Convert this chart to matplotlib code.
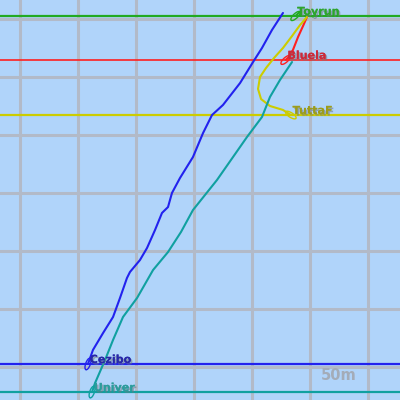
import numpy as np
import matplotlib
matplotlib.use("Agg")
import matplotlib.pyplot as plt
from matplotlib.patches import Ellipse
import matplotlib.patheffects as pe

# boat tracks in metres (x east, y north), first point = current position
names = ["Toyrun", "Bluela", "TuttaF", "Cezibo", "Univer"]
colors = ["#22aa22", "#ff2020", "#cccc00", "#2222ee", "#10a0a0"]
text_colors = ["#2ea42e", "#cc2a3a", "#9c9c1c", "#2828a8", "#2c9c9c"]

toyrun_x = [237.5, 241.5]
toyrun_y = [302.6, 306.5]

bluela_x = [229.0, 231.5, 235.3, 239.7, 244.0, 247.4]
bluela_y = [264.7, 267.0, 273.3, 284.5, 294.0, 301.7]

tuttaf_x = [233.5, 226.7, 215.5, 207.8, 205.2, 206.9, 212.1, 219.0, 226.7, 234.5, 241.4, 247.4]
tuttaf_y = [217.2, 221.6, 225.0, 231.0, 239.7, 250.0, 257.8, 266.4, 275.0, 285.3, 294.8, 301.7]

cezibo_x = [58.6, 62.9, 71.6, 80.2, 86.2, 92.2, 94.8, 103.4, 109.5, 116.4, 122.4,
            127.6, 131.0, 137.9, 149.1, 157.8, 165.5, 175.0, 189.7, 200.9, 208.6, 217.2, 226.7]
cezibo_y = [2.6, 14.7, 29.3, 43.1, 59.5, 76.7, 81.9, 92.2, 102.6, 118.1, 132.8,
            137.9, 150.0, 162.9, 181.0, 201.7, 217.2, 225.9, 244.8, 262.9, 275.0, 290.5, 305.2]

univer_x = [62.1, 64.7, 73.3, 80.2, 88.8, 100.9, 114.7, 127.6, 138.8, 149.1, 169.8,
            195.7, 208.6, 215.5, 224.1, 234.5]
univer_y = [-21.6, -13.8, 6.0, 23.3, 43.1, 59.5, 83.6, 99.1, 116.4, 135.3, 161.2,
            198.3, 215.5, 232.8, 247.4, 262.9]

# horizontal reference line for each boat (its y position)
boat_line_y = [302.6, 264.7, 217.2, 2.6, -21.6]

tracks_x = [toyrun_x, bluela_x, tuttaf_x, cezibo_x, univer_x]
tracks_y = [toyrun_y, bluela_y, tuttaf_y, cezibo_y, univer_y]

grid_step = 50
px_per_m = 1.16

fig = plt.figure(figsize=(4, 4), dpi=100)
ax = fig.add_axes([0, 0, 1, 1])
ax.set_facecolor("#b0d4fa")
ax.set_xlim(-20 / px_per_m, 380 / px_per_m)
ax.set_ylim(-33 / px_per_m, 367 / px_per_m)

for g in np.arange(0, 351, grid_step):
    ax.axvline(g, color="#b2bac8", lw=2.2, zorder=1)
    ax.axhline(g, color="#b2bac8", lw=2.2, zorder=1)

for i, name in enumerate(names):
    c = colors[i]
    ax.axhline(boat_line_y[i], color=c, lw=1.6 if i != 1 else 1.2, zorder=2)
    xs, ys = tracks_x[i], tracks_y[i]
    ax.plot(xs, ys, color=c, lw=1.5, zorder=3, solid_capstyle="round")
    # boat marker, oriented along last leg
    dx, dy = xs[1] - xs[0], ys[1] - ys[0]
    ang = np.degrees(np.arctan2(dy, dx))
    ax.add_patch(Ellipse((xs[0], ys[0]), 10.5, 4.0, angle=ang, fill=False, ec=c, lw=1, zorder=4))
    t = ax.text(xs[0] + 1.5, ys[0] + 3.5, name, color=text_colors[i], fontsize=8,
                fontweight="bold", va="center", ha="left", zorder=5)
    t.set_path_effects([pe.withSimplePatchShadow(offset=(1.2, -1.2), shadow_rgbFace="#707880", alpha=0.55),
                        pe.Normal()])

ax.text(321 / px_per_m - 20 / px_per_m, (367 - 375) / px_per_m, "50m", color="#a4acb8",
        fontsize=10.5, fontweight="bold", va="center", ha="left", zorder=5)

ax.set_xticks([])
ax.set_yticks([])
for s in ax.spines.values():
    s.set_visible(False)

fig.savefig("out.png", dpi=100)
